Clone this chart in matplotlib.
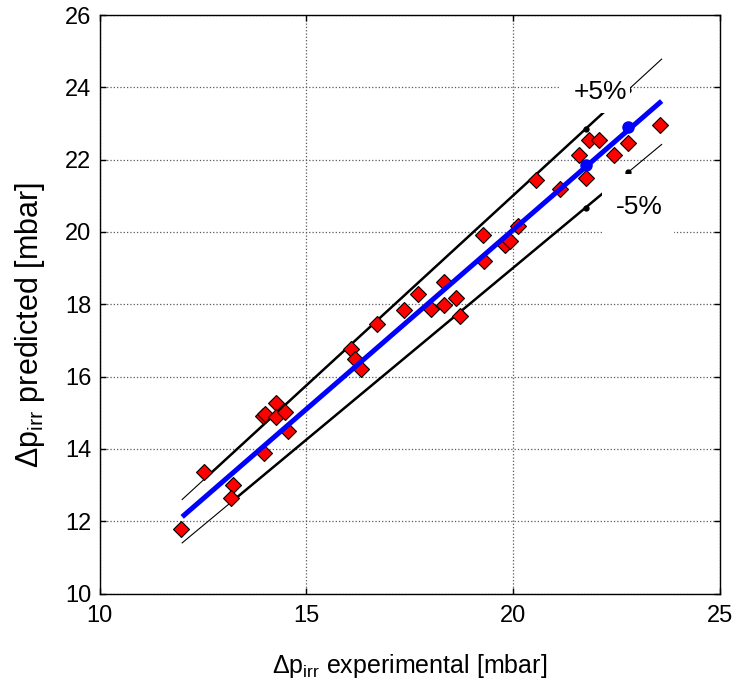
import matplotlib
matplotlib.use("Agg")
import matplotlib.pyplot as plt
from matplotlib.patches import Rectangle

# ---- data ----
exp_x = [11.97, 12.54, 13.24, 13.18, 13.99, 13.95, 14.00, 14.27, 14.27, 14.49, 14.57,
         16.08, 16.18, 16.32, 16.72, 17.37, 17.70, 18.03, 18.34, 18.34, 18.62, 18.73,
         19.28, 19.30, 19.82, 19.93, 20.12, 20.55, 21.14, 21.61, 21.76, 21.85, 22.09,
         22.44, 22.78, 23.57]
pred_y = [11.79, 13.37, 13.00, 12.65, 13.89, 14.92, 14.97, 15.27, 14.88, 15.01, 14.49,
          16.77, 16.49, 16.21, 17.44, 17.85, 18.29, 17.86, 18.62, 17.99, 18.17, 17.68,
          19.92, 19.19, 19.65, 19.75, 20.17, 21.44, 21.19, 22.13, 21.49, 22.55, 22.55,
          22.13, 22.47, 22.96]

fit_x = [12.0, 23.6]
fit_y = [12.12, 23.62]
fit_dot_x = [21.76, 22.79]
fit_dot_y = [21.86, 22.89]

band_x = [12.0, 23.6]
plus5_y = [12.60, 24.78]
minus5_y = [11.40, 22.42]
plus5_thick_x = [12.6, 22.2]
plus5_thick_y = [13.23, 23.31]
minus5_thick_x = [13.2, 22.2]
minus5_thick_y = [12.54, 21.09]
band_dot_x = [21.76, 22.79]
plus5_dot_y = [22.85, 23.93]
minus5_dot_y = [20.67, 21.65]

x_ticks = [10, 15, 20, 25]
y_ticks = [10, 12, 14, 16, 18, 20, 22, 24, 26]

FONT = ['Liberation Sans', 'DejaVu Sans']
plt.rcParams['font.family'] = FONT
plt.rcParams['mathtext.fontset'] = 'custom'
plt.rcParams['mathtext.rm'] = 'Liberation Sans'
plt.rcParams['mathtext.it'] = 'Liberation Sans'

fig = plt.figure(figsize=(7.35, 6.82), dpi=100)
ax = fig.add_axes([99.5 / 735, 1 - 593.5 / 682, 620 / 735, 578.5 / 682])

ax.set_xlim(10, 25)
ax.set_ylim(10, 26)
ax.set_xticks(x_ticks)
ax.set_yticks(y_ticks)
ax.grid(True, linestyle=':', color='0.35', linewidth=0.9, zorder=0)
ax.set_axisbelow(True)

# +/-5% lines (thin full range + thick part)
ax.plot(band_x, plus5_y, color='black', lw=0.8, zorder=2)
ax.plot(band_x, minus5_y, color='black', lw=0.8, zorder=2)
ax.plot(plus5_thick_x, plus5_thick_y, color='black', lw=1.8, zorder=2)
ax.plot(minus5_thick_x, minus5_thick_y, color='black', lw=1.8, zorder=2)
ax.plot(band_dot_x, plus5_dot_y, 'o', color='black', ms=3.5, zorder=2)
ax.plot(band_dot_x, minus5_dot_y, 'o', color='black', ms=3.5, zorder=2)

# experimental points
ax.plot(exp_x, pred_y, 'D', ms=8.5, mfc='red', mec='black', mew=0.8,
        linestyle='none', zorder=3)

# fit line
ax.plot(fit_x, fit_y, color='blue', lw=3.6, zorder=4, solid_capstyle='butt')
ax.plot(fit_dot_x, fit_dot_y, 'o', color='blue', ms=8, zorder=4)

# label boxes
ax.add_patch(Rectangle((21.15, 23.30), 1.69, 1.15, facecolor='white',
                       edgecolor='none', zorder=5))
ax.add_patch(Rectangle((22.15, 19.80), 1.75, 1.80, facecolor='white',
                       edgecolor='none', zorder=5))
ax.text(22.13, 23.88, '+5%', fontsize=19, ha='center', va='center', zorder=6)
ax.text(23.06, 20.70, '-5%', fontsize=19, ha='center', va='center', zorder=6)

ax.tick_params(direction='in', length=4, width=1.0, top=True, right=True,
               labelsize=17)
ax.tick_params(axis='x', pad=8)
ax.tick_params(axis='y', pad=6)
for s in ax.spines.values():
    s.set_linewidth(1.0)
    s.set_zorder(7)

ax.set_xlabel('Δp$_{\\mathrm{irr}}$ experimental [mbar]', fontsize=18, labelpad=18)
ax.set_ylabel('Δp$_{\\mathrm{irr}}$ predicted [mbar]', fontsize=22, labelpad=10)
ax.yaxis.set_label_coords(-0.085, 0.465)

fig.savefig('out.png', dpi=100)
